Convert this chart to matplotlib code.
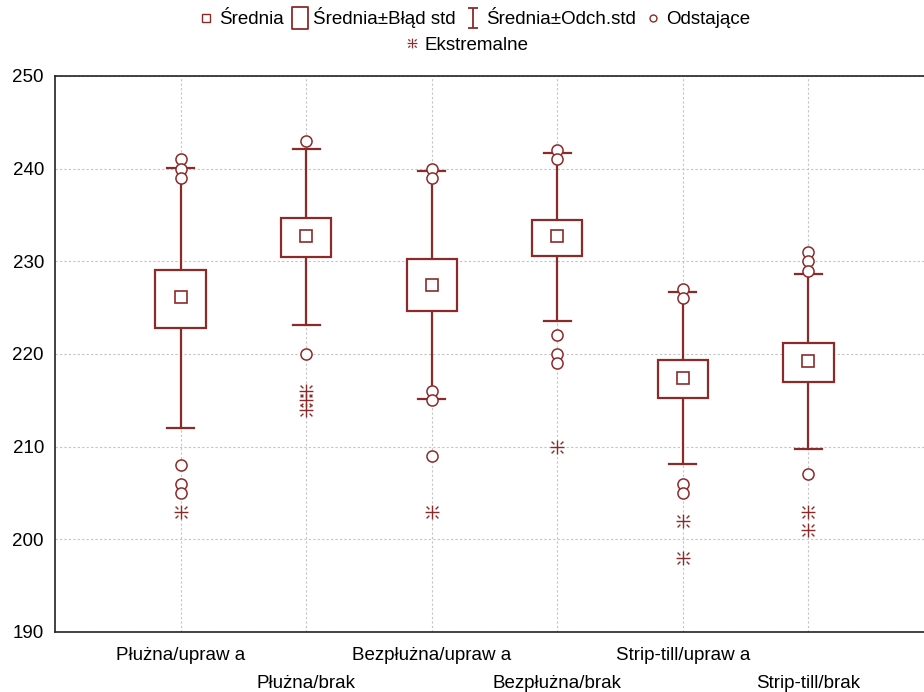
import matplotlib
matplotlib.use('Agg')
import matplotlib.pyplot as plt
from matplotlib.patches import Rectangle
from matplotlib.path import Path
from matplotlib.lines import Line2D
from matplotlib.transforms import blended_transform_factory

plt.rcParams['font.family'] = ['Liberation Sans', 'DejaVu Sans']

# Groups (tillage / residue treatment)
groups = ["Płużna/upraw a", "Płużna/brak", "Bezpłużna/upraw a",
          "Bezpłużna/brak", "Strip-till/upraw a", "Strip-till/brak"]

# Mean, mean ± std error, mean ± std deviation
means = [226.1, 232.7, 227.5, 232.7, 217.4, 219.2]
se_low = [222.8, 230.5, 224.6, 230.6, 215.3, 217.0]
se_high = [229.1, 234.7, 230.3, 234.5, 219.3, 221.2]
sd_low = [212.0, 223.1, 215.1, 223.6, 208.1, 209.8]
sd_high = [240.1, 242.1, 239.8, 241.7, 226.7, 228.6]

# Outliers and extreme values per group
outliers = [
    [241, 240, 239, 208, 206, 205],
    [243, 220],
    [240, 239, 216, 215, 209],
    [242, 241, 222, 220, 219],
    [227, 226, 206, 205],
    [231, 230, 229, 207],
]
extremes = [
    [203],
    [216, 215, 214],
    [203],
    [210],
    [202, 198],
    [203, 201],
]

COLOR = '#8c2a2a'
FS = 13.5

# I-beam marker for the std deviation whisker
ibeam = Path([(-0.5, 1), (0.5, 1), (0, 1), (0, -1), (-0.5, -1), (0.5, -1)],
             [Path.MOVETO, Path.LINETO, Path.MOVETO, Path.LINETO,
              Path.MOVETO, Path.LINETO])

# Statistica style asterisk: plus with short diagonal ticks
d1, d2 = 0.45, 0.85
star_v = [(-1, 0), (1, 0), (0, -1), (0, 1)]
star_c = [Path.MOVETO, Path.LINETO, Path.MOVETO, Path.LINETO]
for sx, sy in [(1, 1), (-1, 1), (1, -1), (-1, -1)]:
    star_v += [(sx * d1, sy * d1), (sx * d2, sy * d2)]
    star_c += [Path.MOVETO, Path.LINETO]
star = Path(star_v, star_c)

tall_rect = Path([(-0.35, -0.5), (0.35, -0.5), (0.35, 0.5), (-0.35, 0.5), (-0.35, -0.5)],
                 [Path.MOVETO, Path.LINETO, Path.LINETO, Path.LINETO, Path.CLOSEPOLY])

fig = plt.figure(figsize=(9.24, 6.92), dpi=100)
ax = fig.add_axes([55 / 924, 1 - 632 / 692, (934 - 55) / 924, (632 - 76) / 692])

xs = list(range(1, len(groups) + 1))
box_w = 0.4
cap_w = 0.215

for i, x in enumerate(xs):
    # whiskers
    ax.plot([x, x], [sd_low[i], se_low[i]], color=COLOR, lw=1.6, zorder=3)
    ax.plot([x, x], [se_high[i], sd_high[i]], color=COLOR, lw=1.6, zorder=3)
    ax.plot([x - cap_w / 2, x + cap_w / 2], [sd_low[i]] * 2, color=COLOR, lw=1.6, zorder=3)
    ax.plot([x - cap_w / 2, x + cap_w / 2], [sd_high[i]] * 2, color=COLOR, lw=1.6, zorder=3)
    # std error box
    ax.add_patch(Rectangle((x - box_w / 2, se_low[i]), box_w, se_high[i] - se_low[i],
                           facecolor='white', edgecolor=COLOR, lw=1.6, zorder=4))
    # mean
    ax.plot([x], [means[i]], marker='s', ms=8, mfc='none', mec=COLOR, mew=1.2, zorder=5)
    # outliers / extremes
    ax.plot([x] * len(outliers[i]), outliers[i], ls='none', marker='o', ms=8,
            mfc='white', mec=COLOR, mew=1.1, zorder=5)
    ax.plot([x] * len(extremes[i]), extremes[i], ls='none', marker=star, ms=10,
            mfc='none', mec=COLOR, mew=1.0, zorder=5)

ax.set_xlim(0, 7)
ax.set_ylim(190, 250)
ax.set_yticks(range(190, 251, 10))
ax.set_xticks(xs)
ax.set_xticklabels([])

# staggered category labels (x in data units, y in figure fraction)
label_tr = blended_transform_factory(ax.transData, fig.transFigure)
for i, x in enumerate(xs):
    ypix = 656 if i % 2 == 0 else 684
    ax.text(x, 1 - ypix / 692, groups[i], transform=label_tr,
            ha='center', va='center', fontsize=FS, clip_on=False)

ax.grid(True, color='#c4c4c4', lw=0.8, ls=(0, (2, 2)))
ax.set_axisbelow(True)
ax.tick_params(axis='both', length=0, labelsize=FS)
ax.tick_params(axis='y', pad=8)
for s in ['left', 'top', 'bottom', 'right']:
    ax.spines[s].set_color('#222222')
    ax.spines[s].set_linewidth(1.2)

# legend, two rows
h1 = [
    Line2D([], [], ls='none', marker='s', ms=6, mfc='none', mec=COLOR, mew=1.0),
    Line2D([], [], ls='none', marker=tall_rect, ms=16, mfc='none', mec=COLOR, mew=1.3),
    Line2D([], [], ls='none', marker=ibeam, ms=14, mfc='none', mec=COLOR, mew=1.3),
    Line2D([], [], ls='none', marker='o', ms=5, mfc='none', mec=COLOR, mew=1.0),
]
fig.legend(h1, ["Średnia", "Średnia±Błąd std", "Średnia±Odch.std", "Odstające"],
           loc='center', bbox_to_anchor=(0.513, 1 - 18 / 692), ncol=4, frameon=False,
           fontsize=FS, handlelength=0.8, handletextpad=0.3, columnspacing=0.5)
h2 = [Line2D([], [], ls='none', marker=star, ms=7, mfc='none', mec=COLOR, mew=0.9)]
fig.legend(h2, ["Ekstremalne"], loc='center', bbox_to_anchor=(0.505, 1 - 45 / 692),
           frameon=False, fontsize=FS, handlelength=0.8, handletextpad=0.3)

fig.savefig('out.png', dpi=100)
